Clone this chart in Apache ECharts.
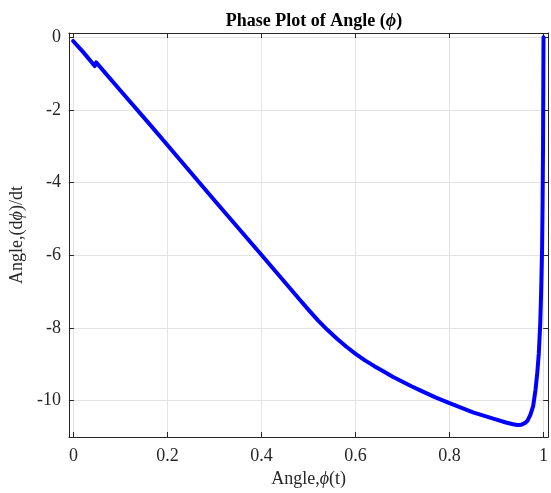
<!DOCTYPE html>
<html>
<head>
<meta charset="utf-8">
<script src="https://cdn.jsdelivr.net/npm/echarts@6/dist/echarts.min.js"></script>
<style>
  html, body { margin: 0; padding: 0; background: #fff; }
  #chart { width: 551px; height: 493px; }
</style>
</head>
<body>
<div id="chart"></div>
<script>
// phase trajectory
var angle = [-0.001, 0.02, 0.045, 0.048, 0.05, 0.1, 0.163, 0.2, 0.3, 0.4, 0.48, 0.5, 0.52, 0.54, 0.56, 0.58, 0.6, 0.62, 0.64, 0.66, 0.68, 0.7, 0.72, 0.74, 0.77, 0.8, 0.85, 0.9, 0.92, 0.935, 0.945, 0.953, 0.96, 0.966, 0.972, 0.978, 0.983, 0.987, 0.99, 0.993, 0.995, 0.997, 0.998, 0.999, 1.0];
var rate = [-0.1, -0.4, -0.79, -0.69, -0.72, -1.47, -2.41, -2.97, -4.49, -5.99, -7.2, -7.5, -7.79, -8.05, -8.29, -8.51, -8.71, -8.89, -9.05, -9.2, -9.35, -9.48, -9.61, -9.73, -9.91, -10.07, -10.32, -10.52, -10.6, -10.65, -10.67, -10.66, -10.62, -10.55, -10.39, -10.15, -9.7, -9.2, -8.7, -7.9, -7.0, -5.8, -4.6, -3.0, 0];
var xTicks = [0, 0.2, 0.4, 0.6, 0.8, 1];
var yTicks = [-10, -8, -6, -4, -2, 0];

var font = 'Liberation Serif, Times New Roman, serif';
var axisColor = '#262626';
var gridColor = '#e3e3e3';

var points = angle.map(function (a, i) { return [a, rate[i]]; });

function fmt(v) {
    return String(Math.round(v * 10) / 10);
}

function xAxisCfg(pos, show) {
    return {
        type: 'value', position: pos, min: -0.01, max: 1.01,
        axisLine: {show: true, onZero: false, lineStyle: {color: axisColor, width: 1}},
        axisTick: {show: true, inside: true, length: 5, customValues: xTicks, lineStyle: {color: axisColor}},
        axisLabel: {show: show, customValues: xTicks, formatter: fmt, margin: 10,
            fontFamily: font, fontSize: 18, color: axisColor},
        splitLine: {show: show, lineStyle: {color: gridColor, width: 1}}
    };
}

function yAxisCfg(pos, show) {
    return {
        type: 'value', position: pos, min: -11, max: 0.12,
        axisLine: {show: true, onZero: false, lineStyle: {color: axisColor, width: 1}},
        axisTick: {show: true, inside: true, length: 5, customValues: yTicks, lineStyle: {color: axisColor}},
        axisLabel: {show: show, customValues: yTicks, formatter: fmt, margin: 8,
            fontFamily: font, fontSize: 18, color: axisColor},
        splitLine: {show: show, lineStyle: {color: gridColor, width: 1}}
    };
}

var nameStyle = {
    rich: {
        n: {fontFamily: font, fontSize: 18, color: axisColor},
        i: {fontFamily: font, fontSize: 18, fontStyle: 'italic', color: axisColor}
    }
};

var chart = echarts.init(document.getElementById('chart'));
var xBottom = xAxisCfg('bottom', true);
xBottom.name = '{n|Angle,}{i|ϕ}{n|(t)}';
xBottom.nameLocation = 'middle';
xBottom.nameGap = 33;
xBottom.nameTextStyle = nameStyle;

var yLeft = yAxisCfg('left', true);
yLeft.name = '{n|Angle,(d}{i|ϕ}{n|)/dt}';
yLeft.nameLocation = 'middle';
yLeft.nameGap = 37;
yLeft.nameTextStyle = nameStyle;

var option = {
    backgroundColor: '#fff',
    animation: false,
    title: {
        text: '{b|Phase Plot of Angle (}{i|ϕ}{b|)}',
        left: 309, top: 7, textAlign: 'center',
        textStyle: {
            rich: {
                b: {fontFamily: font, fontSize: 18, fontWeight: 'bold', color: '#000'},
                i: {fontFamily: font, fontSize: 18, fontWeight: 'bold', fontStyle: 'italic', color: '#000'}
            }
        }
    },
    grid: {left: 68, right: 1, top: 33, bottom: 54, containLabel: false},
    xAxis: [xBottom, xAxisCfg('top', false)],
    yAxis: [yLeft, yAxisCfg('right', false)],
    series: [{
        type: 'line',
        data: points,
        xAxisIndex: 0, yAxisIndex: 0,
        showSymbol: false,
        smooth: false,
        lineStyle: {color: '#0000ff', width: 4, join: 'round', cap: 'round'},
        clip: true
    }]
};
chart.setOption(option);
</script>
</body>
</html>
